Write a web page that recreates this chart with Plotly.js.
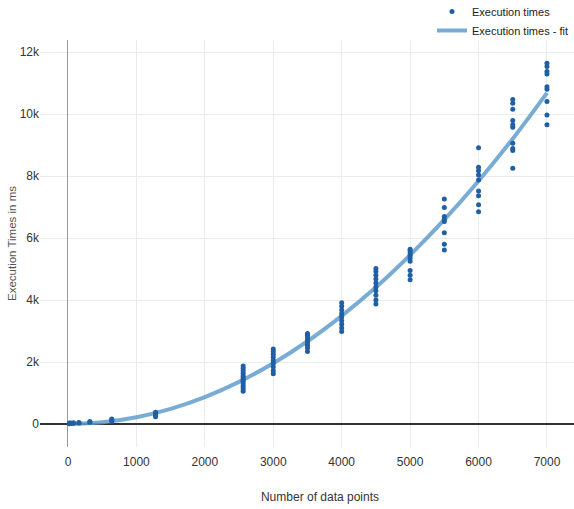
<!DOCTYPE html>
<html>
<head>
<meta charset="utf-8">
<script src="https://cdn.plot.ly/plotly-3.0.1.min.js"></script>
<style>html,body{margin:0;padding:0;overflow:hidden;background:#fff;}#chart{width:620px;height:509px;}</style>
</head>
<body>
<div id="chart"></div>
<script>
// Execution times per number of data points
const sizes = [20, 40, 80, 160, 320, 640, 1280, 2560, 3000, 3500, 4000, 4500, 5000, 5500, 6000, 6500, 7000];
const timesBySize = [
  [10, 20, 30],
  [15, 30],
  [25, 40],
  [30, 50],
  [60, 80],
  [90, 130, 160],
  [230, 280, 330, 380],
  [1060, 1140, 1220, 1300, 1380, 1440, 1500, 1560, 1640, 1720, 1800, 1870],
  [1620, 1720, 1840, 1950, 2050, 2150, 2250, 2340, 2420],
  [2340, 2450, 2540, 2620, 2700, 2780, 2860, 2920],
  [2980, 3100, 3220, 3330, 3450, 3560, 3680, 3800, 3910],
  [3870, 4000, 4150, 4300, 4420, 4550, 4680, 4800, 4920, 5020],
  [4650, 4800, 4950, 5250, 5350, 5430, 5500, 5580, 5640],
  [5610, 5800, 6170, 6530, 6600, 6690, 6980, 7260],
  [6850, 7070, 7360, 7520, 7870, 8030, 8170, 8280, 8910],
  [8250, 8820, 8890, 9060, 9570, 9650, 9790, 10150, 10350, 10470],
  [9650, 9970, 10400, 10800, 10880, 11290, 11370, 11530, 11640]
];
// Fitted curve
const fitX = [0, 500, 1000, 1500, 2000, 2500, 3000, 3500, 4000, 4500, 5000, 5500, 6000, 6500, 7000];
const fitY = [0, 55, 220, 490, 870, 1360, 1960, 2670, 3490, 4410, 5450, 6590, 7840, 9200, 10680];

const seriesNames = ["Execution times", "Execution times - fit"];
const yTickVals = [0, 2000, 4000, 6000, 8000, 10000, 12000];
const yTickText = ["0", "2k", "4k", "6k", "8k", "10k", "12k"];
const xTickVals = [0, 1000, 2000, 3000, 4000, 5000, 6000, 7000];

const px = [], py = [];
sizes.forEach((s, i) => timesBySize[i].forEach(t => { px.push(s); py.push(t); }));

const narrow = "'Liberation Sans Narrow', 'Arial Narrow', 'Liberation Sans', sans-serif";

const traces = [
  {
    x: fitX, y: fitY, type: "scatter", mode: "lines", name: seriesNames[1],
    line: {color: "rgba(98,158,206,0.85)", width: 4, shape: "spline"},
    legendrank: 2
  },
  {
    x: px, y: py, type: "scatter", mode: "markers", name: seriesNames[0],
    marker: {color: "#1f5fa6", size: 5},
    legendrank: 1
  }
];

const layout = {
  width: 620, height: 509,
  margin: {l: 40, r: 20, t: 40, b: 62, autoexpand: false},
  paper_bgcolor: "#fff", plot_bgcolor: "#fff",
  font: {family: narrow, size: 12, color: "#333"},
  showlegend: true,
  legend: {x: 0.7, xanchor: "left", y: 1.1057, yanchor: "top",
           font: {family: narrow, size: 11, color: "#222"}, bgcolor: "rgba(0,0,0,0)",
           tracegroupgap: 0, itemwidth: 30, borderwidth: 0},
  xaxis: {
    range: [-409, 7775], tickvals: xTickVals, showgrid: true, gridcolor: "#ececec",
    zeroline: true, zerolinecolor: "#999", zerolinewidth: 1,
    showline: false, ticks: "outside", ticklen: 4, tickcolor: "rgba(0,0,0,0)",
    tickfont: {family: narrow, size: 12, color: "#333"},
    title: {text: "Number of data points", font: {family: narrow, size: 12, color: "#333"}, standoff: 24}
  },
  yaxis: {
    range: [-742, 12387], tickvals: yTickVals, ticktext: yTickText, showgrid: true, gridcolor: "#ececec",
    zeroline: true, zerolinecolor: "#333", zerolinewidth: 1.2,
    showline: false, ticks: "", tickfont: {family: narrow, size: 12, color: "#333"},
    title: {text: "Execution Times in ms", font: {family: "'Liberation Sans', Arial, sans-serif", size: 11.5, color: "#555"}, standoff: 0}
  }
};

Plotly.newPlot("chart", traces, layout, {displayModeBar: false, staticPlot: true});
</script>
</body>
</html>
